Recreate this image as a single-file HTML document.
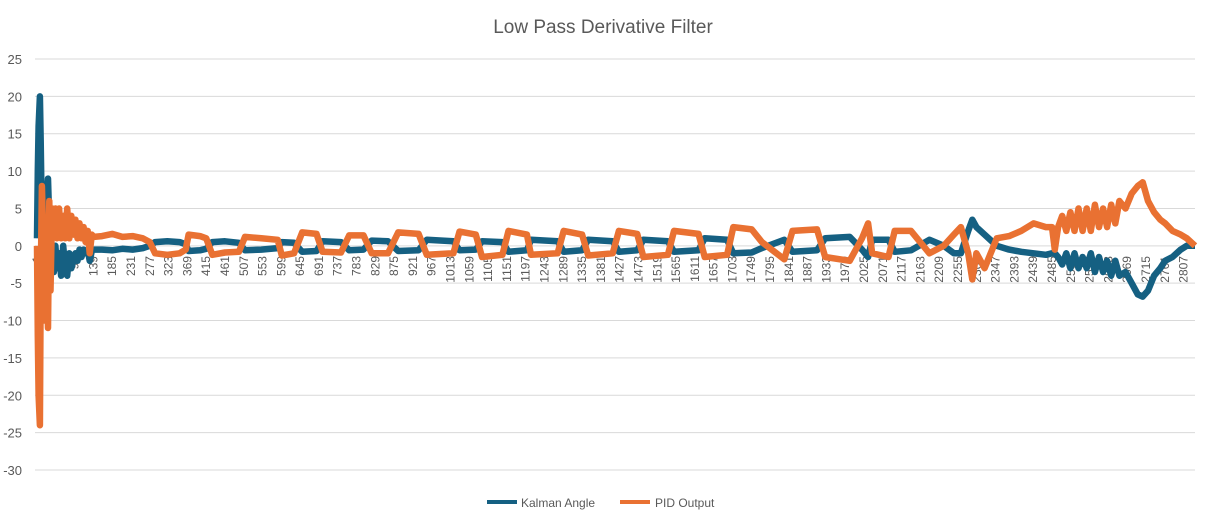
<!DOCTYPE html>
<html><head><meta charset="utf-8"><style>
body{margin:0;background:#fff;}
svg{display:block;font-family:"Liberation Sans",sans-serif;}
</style></head><body>
<svg id="chart" width="1205" height="518">
<text x="603" y="33" text-anchor="middle" font-size="19" fill="#595959">Low Pass Derivative Filter</text>
<g id="grid"></g>
<g id="yaxis"></g>
<g id="xaxis"></g>
<g id="series"></g>
<g>
<g><line x1="487" y1="502" x2="517" y2="502" stroke="#156082" stroke-width="4"/><text x="521" y="507" font-size="12" fill="#595959">Kalman Angle</text></g>
<g><line x1="620" y1="502" x2="650" y2="502" stroke="#e97132" stroke-width="4"/><text x="655" y="507" font-size="12" fill="#595959">PID Output</text></g>
</g>
</svg>
<script>
const yTicks=[25,20,15,10,5,0,-5,-10,-15,-20,-25,-30];
const N=2835;
const cats=[1,3,5,8,10,13,16,20,24,28,31,34,38,42,46,50,55,60,65,70,75,80,85,90,95,100,105,110,115,120,125,130,135,140,
160,185,210,235,260,277,290,320,350,365,372,400,415,430,461,495,510,550,590,600,630,650,685,700,745,765,800,820,860,885,935,955,1020,1035,1075,1090,1140,1155,1200,1210,1275,1290,1335,1350,1410,1425,1470,1485,1545,1560,1620,1635,1690,1705,1750,1775,1830,1850,1910,1930,1990,2020,2035,2045,2085,2100,2140,2185,2220,2245,2262,2280,2290,2300,2320,2350,2380,2410,2440,2470,2485,2492,2500,
2510,2520,2530,2540,2550,2560,2570,2580,2590,2600,2610,2620,2630,2640,2650,2665,2680,2695,2707,2720,2735,2750,2762,2780,2800,2815,2835];
const pidOutput=[0,-12,-20,-24,-5,8,2,-10,-2,-11,6,-6,5,2,5,1,5,1,4,1,5,1,4,1.5,3.5,1,3,1,2.5,0.5,2,-1,1.5,1.2,
1.3,1.6,1.2,1.3,1.0,0.5,-1.0,-1.2,-1.0,-0.5,1.5,1.3,1.0,-1.2,-0.9,-0.8,1.2,1.0,0.8,-1.3,-1.0,1.8,1.6,-0.8,-0.9,1.4,1.4,-1.0,-1.0,1.8,1.6,-1.2,-1.0,1.9,1.5,-1.5,-1.2,2.0,1.5,-1.2,-1.0,2.0,1.5,-1.3,-1.0,2.0,1.6,-1.5,-1.2,2.0,1.6,-1.5,-1.2,2.5,2.2,0.5,-1.8,2.0,2.2,-1.5,-2.0,1.0,3.0,-1.0,-1.5,2.0,2.0,-1.0,0,1.5,2.5,-1,-4.5,-1,-3,1,1.3,2,3,2.5,2.5,-0.5,2.5,
4,2,4.5,2,5,2,5,2,5.5,2.5,5,2.5,5.5,3,6,5,7,8,8.5,6,4.5,3.5,3,2,1.5,1,0];
const kalmanAngle=[1,10,16,20,14,3,0,2,6,9,3,-4,-2,-3.5,0,-3,-1,-4,0,-3,-4,-1,-3,-2,-1,-2,-0.5,-1.5,-0.5,-1,-0.5,-2,-0.7,-0.5,
-0.5,-0.6,-0.4,-0.5,-0.3,0,0.5,0.6,0.5,0.2,-0.7,-0.6,-0.4,0.5,0.6,0.4,-0.6,-0.5,-0.3,0.5,0.4,-0.8,-0.7,0.6,0.5,-0.6,-0.5,0.7,0.6,-0.7,-0.6,0.8,0.6,-0.6,-0.5,0.6,0.5,-0.8,-0.6,0.8,0.6,-0.8,-0.6,0.8,0.6,-0.8,-0.6,0.8,0.6,-0.8,-0.6,1.0,0.8,-1.0,-0.9,-0.3,0.8,-0.8,-0.6,1.0,1.2,-0.5,-1.5,0.8,0.8,-0.8,-0.6,0.8,0,-1,-1,2,3.5,2.5,1.5,0,-0.5,-0.8,-1,-1.2,-1,-1,-1.5,
-2.5,-1,-3,-1,-3,-1.5,-3,-1,-3.5,-1.5,-3.5,-2,-4,-2,-4,-3.5,-5,-6.5,-6.8,-6,-4,-3,-2,-1.5,-0.5,0,0];
const NS='http://www.w3.org/2000/svg';
const L=35,R=1195,T=59,B=470,yMax=25,yMin=-30;
const X0=37,XR=1195;
function xs(c){return X0+(c-1)*(XR-X0)/(N-1);}
function ys(v){return T+(yMax-v)*(B-T)/(yMax-yMin);}
const grid=document.getElementById('grid'),ya=document.getElementById('yaxis'),xa=document.getElementById('xaxis'),sg=document.getElementById('series');
yTicks.forEach(t=>{
 const l=document.createElementNS(NS,'line');
 
 
 l.setAttribute('x1',L);l.setAttribute('x2',R);l.setAttribute('y1',ys(t));l.setAttribute('y2',ys(t));
 l.setAttribute('stroke','#d9d9d9');l.setAttribute('stroke-width','1');
 grid.appendChild(l);
 const tx=document.createElementNS(NS,'text');
 
 
 tx.setAttribute('x',22);tx.setAttribute('y',ys(t)+5);tx.setAttribute('text-anchor','end');
 tx.setAttribute('font-size','13');tx.setAttribute('fill','#595959');tx.textContent=t;
 ya.appendChild(tx);
});
for(let c=1;c<=N;c+=46){
 const tx=document.createElementNS(NS,'text');
 
 
 const x=xs(c)+4,y=256;
 tx.setAttribute('x',x);tx.setAttribute('y',y);tx.setAttribute('text-anchor','end');
 tx.setAttribute('transform','rotate(-90 '+x+' '+y+')');
 tx.setAttribute('font-size','12');tx.setAttribute('fill','#595959');tx.textContent=c;
 xa.appendChild(tx);
}
function drawLine(vals,color,name){
 const p=document.createElementNS(NS,'polyline');
 
 
 p.setAttribute('points',vals.map((v,i)=>xs(cats[i]).toFixed(1)+','+ys(v).toFixed(1)).join(' '));
 p.setAttribute('fill','none');p.setAttribute('stroke',color);p.setAttribute('stroke-width','6.5');
 p.setAttribute('stroke-linejoin','round');
 sg.appendChild(p);
}
drawLine(kalmanAngle,'#156082','kalman-angle-line');
drawLine(pidOutput,'#e97132','pid-output-line');
</script>
</body></html>
